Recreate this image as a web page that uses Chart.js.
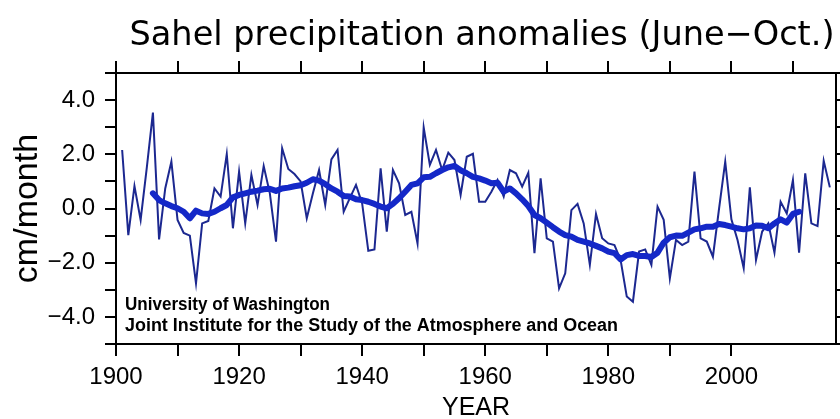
<!DOCTYPE html>
<html>
<head>
<meta charset="utf-8">
<script src="https://cdn.jsdelivr.net/npm/chart.js@4.4.1/dist/chart.umd.min.js"></script>
<style>
    html, body { margin: 0; padding: 0; background: #fff; }
    #wrap { width: 840px; height: 419px; }
</style>
</head>
<body>
<div id="wrap"><canvas id="sahelChart" width="840" height="419"></canvas></div>
<script>
// Years of the record
const years = [
    1901, 1902, 1903, 1904, 1905, 1906, 1907, 1908, 1909, 1910,
    1911, 1912, 1913, 1914, 1915, 1916, 1917, 1918, 1919, 1920,
    1921, 1922, 1923, 1924, 1925, 1926, 1927, 1928, 1929, 1930,
    1931, 1932, 1933, 1934, 1935, 1936, 1937, 1938, 1939, 1940,
    1941, 1942, 1943, 1944, 1945, 1946, 1947, 1948, 1949, 1950,
    1951, 1952, 1953, 1954, 1955, 1956, 1957, 1958, 1959, 1960,
    1961, 1962, 1963, 1964, 1965, 1966, 1967, 1968, 1969, 1970,
    1971, 1972, 1973, 1974, 1975, 1976, 1977, 1978, 1979, 1980,
    1981, 1982, 1983, 1984, 1985, 1986, 1987, 1988, 1989, 1990,
    1991, 1992, 1993, 1994, 1995, 1996, 1997, 1998, 1999, 2000,
    2001, 2002, 2003, 2004, 2005, 2006, 2007, 2008, 2009, 2010,
    2011, 2012, 2013, 2014, 2015, 2016
];

// Annual June-October anomalies (cm/month)
const annualAnomaly = [
     2.16, -0.98,  0.83, -0.42,  1.50,  3.54, -1.14,  0.74,  1.73, -0.42,
    -0.90, -1.00, -2.76, -0.55, -0.46,  0.74,  0.44,  2.01, -0.73,  1.36,
    -0.55,  1.24,  0.13,  1.57,  0.56, -1.22,  2.22,  1.46,  1.27,  1.00,
    -0.36,  0.56,  1.42,  0.13,  1.81,  2.16, -0.12,  0.38,  0.87,  0.19,
    -1.56, -1.51,  1.48, -0.85,  1.42,  0.93, -0.24, -0.12, -1.29,  2.99,
     1.61,  2.16,  1.42,  2.06,  1.79,  0.50,  1.91,  2.02,  0.25,  0.25,
     0.62,  1.05,  0.44,  1.42,  1.30,  0.81,  1.32, -1.65,  1.11, -1.10,
    -1.22, -2.95, -2.39, -0.06,  0.17, -0.55, -2.08, -0.20, -1.10, -1.29,
    -1.35, -1.90, -3.25, -3.44, -1.59, -1.51, -2.08,  0.07, -0.42, -2.58,
    -1.16, -1.35, -1.22,  1.36, -1.10, -1.22, -1.78,  0.00,  1.73, -0.40,
    -1.16, -2.20,  0.78, -1.90, -0.85, -0.55, -1.63,  0.25, -0.18,  1.05,
    -1.63,  1.30, -0.55, -0.65,  1.76,  0.78
];

// Smoothed curve, 1906-2011
const smoothYears = years.slice(5, 111);
const smoothAnomaly = [
     0.56,  0.31,  0.19,  0.09,  0.01, -0.12, -0.36, -0.08, -0.18, -0.20,
    -0.12,  0.01,  0.13,  0.41,  0.50,  0.56,  0.62,  0.66,  0.71,  0.73,
     0.65,  0.74,  0.77,  0.82,  0.86,  0.95,  1.08,  1.03,  0.90,  0.74,
     0.62,  0.46,  0.44,  0.34,  0.31,  0.25,  0.17,  0.07,  0.01,  0.17,
     0.38,  0.62,  0.87,  0.93,  1.15,  1.17,  1.30,  1.42,  1.52,  1.57,
     1.41,  1.30,  1.17,  1.11,  1.03,  0.93,  0.95,  0.62,  0.74,  0.56,
     0.34,  0.09, -0.24, -0.36, -0.52, -0.69, -0.85, -0.98, -1.04, -1.16,
    -1.22, -1.29, -1.38, -1.47, -1.59, -1.65, -1.88, -1.72, -1.68, -1.75,
    -1.75, -1.79, -1.63, -1.26, -1.06, -1.00, -1.01, -0.89, -0.77, -0.73,
    -0.67, -0.67, -0.57, -0.61, -0.67, -0.73, -0.77, -0.73, -0.63, -0.64,
    -0.73, -0.55, -0.40, -0.52, -0.20, -0.12
];

// Axis settings
const xMin = 1900, xMax = 2017, xStep = 10, xLabelStep = 20;
const yMin = -5, yMax = 5, yStep = 1, yLabelStep = 2;

const titleText = 'Sahel precipitation anomalies (June\u2212Oct.)';
const xTitle = 'YEAR';
const yTitle = 'cm/month';
const creditLines = [
    'University of Washington',
    'Joint Institute for the Study of the Atmosphere and Ocean'
];

function pairs(xs, ys) {
    return xs.map((x, i) => ({ x: x, y: ys[i] }));
}

function keepSteps(step) {
    return function(scale) {
        scale.ticks = scale.ticks.filter(t => Math.abs(t.value % step) < 1e-6);
    };
}

const frameGrid = {
    drawOnChartArea: false,
    drawTicks: true,
    tickLength: 12,
    tickWidth: 2,
    tickColor: '#000',
    lineWidth: 2,
    color: '#000'
};
const frameBorder = { display: true, color: '#000', width: 2 };

// Title, axis titles and credit text
const textPlugin = {
    id: 'sahelText',
    afterDraw(chart) {
        const ctx = chart.ctx;
        const area = chart.chartArea;
        ctx.save();
        ctx.fillStyle = '#000';

        ctx.font = '34px "DejaVu Sans"';
        ctx.textAlign = 'center';
        ctx.textBaseline = 'alphabetic';
        ctx.fillText(titleText, 482, 45, 705);

        ctx.font = '25px "Liberation Sans"';
        ctx.textBaseline = 'middle';
        ctx.fillText(xTitle, (area.left + area.right) / 2, 408);

        ctx.save();
        ctx.translate(28, (area.top + area.bottom) / 2);
        ctx.rotate(-Math.PI / 2);
        ctx.font = '34px "Liberation Sans"';
        ctx.fillText(yTitle, 0, 0);
        ctx.restore();

        ctx.font = 'bold 18px "Liberation Sans"';
        ctx.textAlign = 'left';
        ctx.textBaseline = 'alphabetic';
        ctx.fillText(creditLines[0], 125, 310, 205);
        ctx.fillText(creditLines[1], 125, 331, 493);
        ctx.restore();
    }
};

new Chart(document.getElementById('sahelChart').getContext('2d'), {
    type: 'line',
    data: {
        datasets: [
            {
                label: 'Smoothed',
                data: pairs(smoothYears, smoothAnomaly),
                borderColor: '#1428c8',
                borderWidth: 6,
                pointRadius: 0,
                tension: 0,
                borderJoinStyle: 'round',
                borderCapStyle: 'round'
            },
            {
                label: 'Annual',
                data: pairs(years, annualAnomaly),
                borderColor: '#1c2890',
                borderWidth: 2,
                pointRadius: 0,
                tension: 0
            }
        ]
    },
    options: {
        responsive: false,
        animation: false,
        layout: { padding: { top: 73, right: 0, bottom: 0, left: 0 } },
        plugins: {
            legend: { display: false },
            title: { display: false },
            tooltip: { enabled: false }
        },
        scales: {
            x: {
                type: 'linear',
                position: 'bottom',
                min: xMin,
                max: xMax,
                grid: frameGrid,
                border: frameBorder,
                afterBuildTicks: keepSteps(xStep),
                afterFit: function(scale) { scale.height = 75; },
                ticks: {
                    stepSize: xStep,
                    autoSkip: false,
                    maxRotation: 0,
                    padding: 7,
                    color: '#000',
                    font: { family: 'Liberation Sans', size: 24 },
                    callback: v => (v % xLabelStep === 0 ? String(v) : '')
                }
            },
            xTop: {
                type: 'linear',
                position: 'top',
                min: xMin,
                max: xMax,
                grid: frameGrid,
                border: frameBorder,
                afterBuildTicks: keepSteps(xStep),
                afterFit: function(scale) { scale.height = 0; },
                ticks: { stepSize: xStep, autoSkip: false, display: false }
            },
            y: {
                type: 'linear',
                position: 'left',
                min: yMin,
                max: yMax,
                grid: Object.assign({}, frameGrid, { tickLength: 11 }),
                border: frameBorder,
                afterFit: function(scale) { scale.width = 116; },
                ticks: {
                    stepSize: yStep,
                    autoSkip: false,
                    padding: 10,
                    color: '#000',
                    font: { family: 'Liberation Sans', size: 24 },
                    callback: function(v) {
                        if (Math.round(v) % yLabelStep !== 0) return '';
                        const s = Math.abs(v).toFixed(1);
                        return v < 0 ? '\u2212' + s : s;
                    }
                }
            },
            yRight: {
                type: 'linear',
                position: 'right',
                min: yMin,
                max: yMax,
                grid: Object.assign({}, frameGrid, { tickLength: 11 }),
                border: frameBorder,
                afterFit: function(scale) { scale.width = 4; },
                ticks: { stepSize: yStep, autoSkip: false, display: false }
            }
        }
    },
    plugins: [textPlugin]
});
</script>
</body>
</html>
